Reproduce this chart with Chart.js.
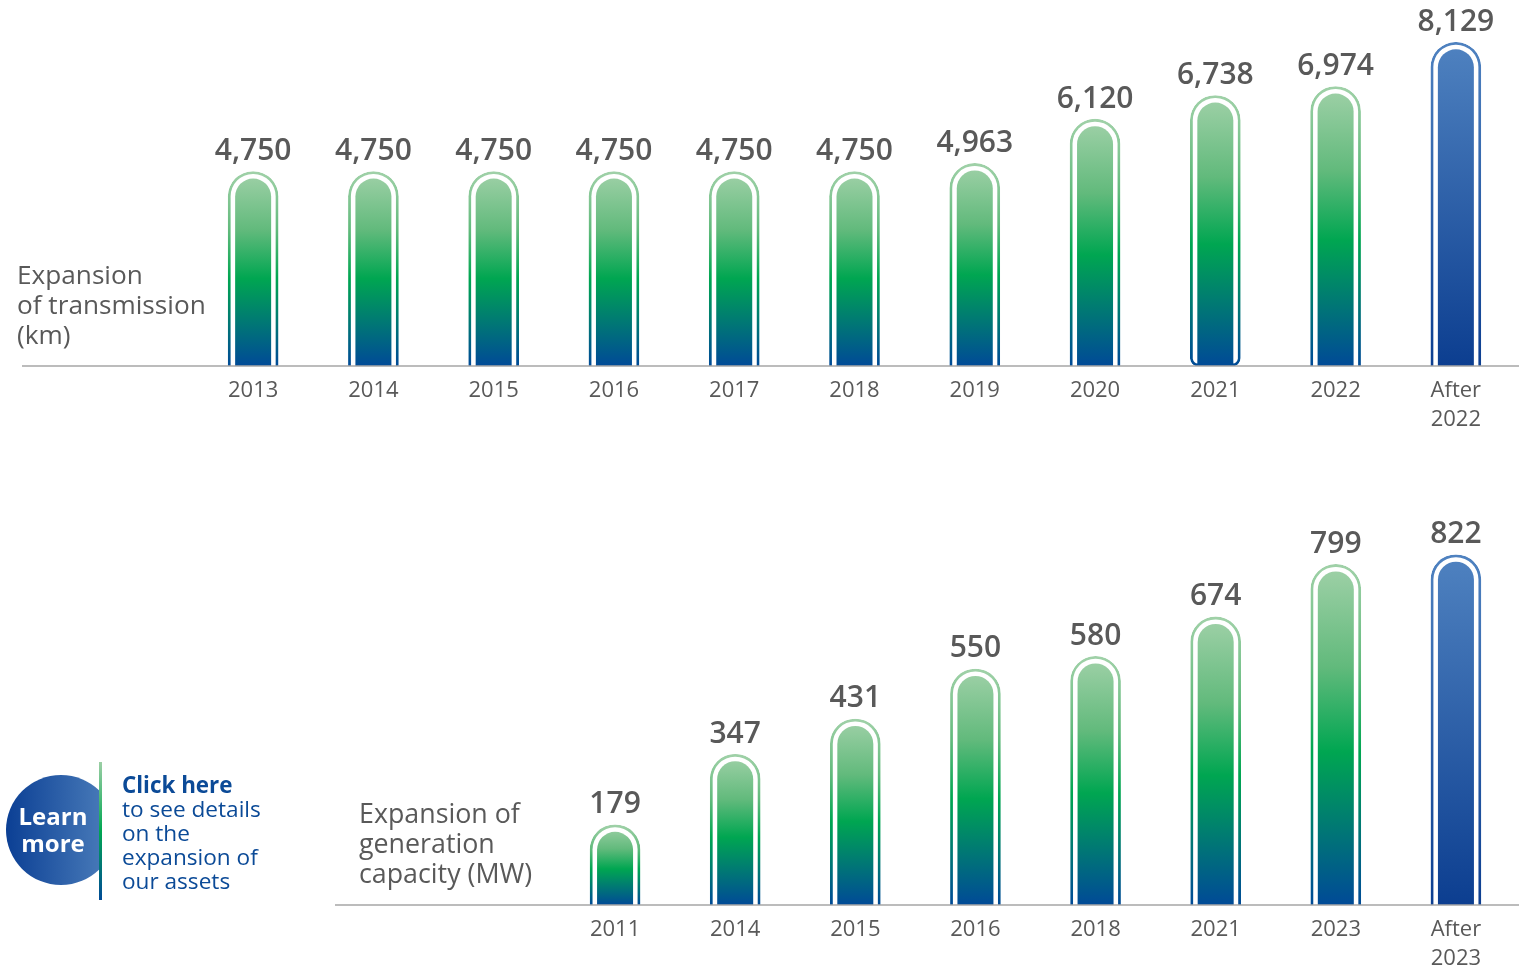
<!DOCTYPE html>
<html lang="en">
<head>
<meta charset="utf-8">
<title>Expansion of assets</title>
<script src="https://cdn.jsdelivr.net/npm/chart.js@4"></script>
<style>
    html, body { margin: 0; padding: 0; background: #fff; overflow: hidden; }
    body { width: 1519px; height: 967px; position: relative; font-family: "Open Sans", sans-serif; }
    canvas { position: absolute; left: 0; }
    #transmissionChart { top: 0; }
    #generationChart { top: 445px; }
    .axis-title { position: absolute; font-size: 26.2px; line-height: 30px; color: #595959; white-space: pre; }
    #transmissionTitle { left: 17px; top: 259px; }
    #generationTitle { left: 359px; top: 798px; font-size: 26.8px; }
    #learnCircle {
        position: absolute; left: 6px; top: 775px; width: 110px; height: 110px; border-radius: 50%;
        background: linear-gradient(to right, #0b3f94, #4f81bd);
        clip-path: inset(0 17px 0 0);
    }
    #learnText {
        position: absolute; left: 3px; top: 802px; width: 100px; text-align: center;
        color: #fff; font-weight: 700; font-size: 24px; line-height: 27px;
    }
    #learnRule {
        position: absolute; left: 99px; top: 762px; width: 3px; height: 138px;
        background: linear-gradient(to bottom, #9ccfa5, #00a651 50%, #004a97);
    }
    #learnCopy {
        position: absolute; left: 122px; top: 773px; color: #0b4a97;
        font-size: 22.6px; line-height: 24px; white-space: pre;
    }
    #learnCopy b { font-size: 22.4px; font-weight: 700; }
</style>
</head>
<body>
<canvas id="transmissionChart" width="1519" height="445"></canvas>
<canvas id="generationChart" width="1519" height="522"></canvas>

<div class="axis-title" id="transmissionTitle">Expansion
of transmission
(km)</div>
<div class="axis-title" id="generationTitle">Expansion of
generation
capacity (MW)</div>

<div id="learnCircle"></div>
<div id="learnRule"></div>
<div id="learnText">Learn<br>more</div>
<div id="learnCopy"><b>Click here</b>
to see details
on the
expansion of
our assets</div>

<script>
const transmissionYears = ['2013', '2014', '2015', '2016', '2017', '2018', '2019', '2020', '2021', '2022', ['After', '2022']]
const transmissionKm = [4750, 4750, 4750, 4750, 4750, 4750, 4963, 6120, 6738, 6974, 8129]

const generationYears = ['2011', '2014', '2015', '2016', '2018', '2021', '2023', ['After', '2023']]
const generationMw = [179, 347, 431, 550, 580, 674, 799, 822]

const TEXT_COLOR = '#595959'
const FONT = '"Open Sans", sans-serif'

// Column gradient, running from the top of the bar to the axis
function barGradient(ctx, top, bottom, isLast) {
    const gradient = ctx.createLinearGradient(0, top, 0, bottom)
    if (isLast) {
        gradient.addColorStop(0, '#4f82c0')
        gradient.addColorStop(1, '#0c3e90')
    } else {
        gradient.addColorStop(0, '#a0d1a8')
        gradient.addColorStop(0.3, '#62ba7c')
        gradient.addColorStop(0.55, '#00a651')
        gradient.addColorStop(1, '#004a97')
    }
    return gradient
}

// Draws the inner capsule, the value labels and the long baseline
const capsulePlugin = {
    id: 'capsule',
    afterDatasetsDraw(chart, args, opts) {
        const ctx = chart.ctx
        const meta = chart.getDatasetMeta(0)
        const values = chart.data.datasets[0].data
        ctx.save()
        meta.data.forEach((bar, i) => {
            const isLast = i === values.length - 1
            const inset = 7
            const half = bar.width / 2 - inset
            ctx.fillStyle = barGradient(ctx, bar.y, bar.base, isLast)
            ctx.beginPath()
            ctx.roundRect(bar.x - half, bar.y + inset, half * 2, bar.base - bar.y - inset, [half, half, 0, 0])
            ctx.fill()

            ctx.fillStyle = TEXT_COLOR
            ctx.font = '600 30px ' + FONT
            ctx.textAlign = 'center'
            ctx.textBaseline = 'alphabetic'
            ctx.fillText(values[i].toLocaleString('en-US'), bar.x, bar.y - 11.5)
        })
        const baseY = chart.chartArea.bottom
        ctx.strokeStyle = '#a6a6a6'
        ctx.lineWidth = 1.5
        ctx.beginPath()
        ctx.moveTo(opts.lineStart, baseY)
        ctx.lineTo(chart.width, baseY)
        ctx.stroke()
        ctx.restore()
    }
}

function makeColumnChart(canvasId, labels, values, settings) {
    return new Chart(document.getElementById(canvasId), {
        type: 'bar',
        data: {
            labels: labels,
            datasets: [{
                data: values,
                base: settings.yMin,
                barThickness: 50,
                backgroundColor: '#ffffff',
                borderWidth: 2.8,
                borderSkipped: (c) => c.dataIndex === settings.footIndex ? false : 'bottom',
                borderRadius: (c) => {
                    const foot = c.dataIndex === settings.footIndex ? 8 : 0
                    return { topLeft: 25, topRight: 25, bottomLeft: foot, bottomRight: foot }
                },
                borderColor: (c) => {
                    const y = c.chart.scales.y
                    const top = y ? y.getPixelForValue(values[c.dataIndex]) : NaN
                    const bottom = y ? y.getPixelForValue(settings.yMin) : NaN
                    // scales have no pixel range until the first layout pass
                    if (!isFinite(top) || !isFinite(bottom)) return '#00a651'
                    return barGradient(c.chart.ctx, top, bottom, c.dataIndex === values.length - 1)
                }
            }]
        },
        options: {
            responsive: false,
            animation: false,
            layout: { padding: { left: settings.left, right: 3, top: settings.top, bottom: 0 } },
            plugins: {
                legend: { display: false },
                tooltip: { enabled: false },
                capsule: { lineStart: settings.lineStart }
            },
            scales: {
                x: {
                    border: { display: false },
                    grid: { display: false },
                    afterFit: (scale) => { scale.height = settings.axisHeight },
                    ticks: {
                        color: TEXT_COLOR,
                        autoSkip: false,
                        maxRotation: 0,
                        padding: 2,
                        font: { family: FONT, size: 22, lineHeight: 1.32 }
                    }
                },
                y: { display: false, min: settings.yMin, max: settings.yMax }
            }
        },
        plugins: [capsulePlugin]
    })
}

document.addEventListener('DOMContentLoaded', function() {
    makeColumnChart('transmissionChart', transmissionYears, transmissionKm, {
        left: 193, top: 9, axisHeight: 79, lineStart: 22,
        yMin: -332, yMax: 9000, footIndex: 8
    })
    makeColumnChart('generationChart', generationYears, generationMw, {
        left: 555, top: 35, axisHeight: 62, lineStart: 335,
        yMin: -12, yMax: 1000, footIndex: -1
    })
})
</script>
</body>
</html>
